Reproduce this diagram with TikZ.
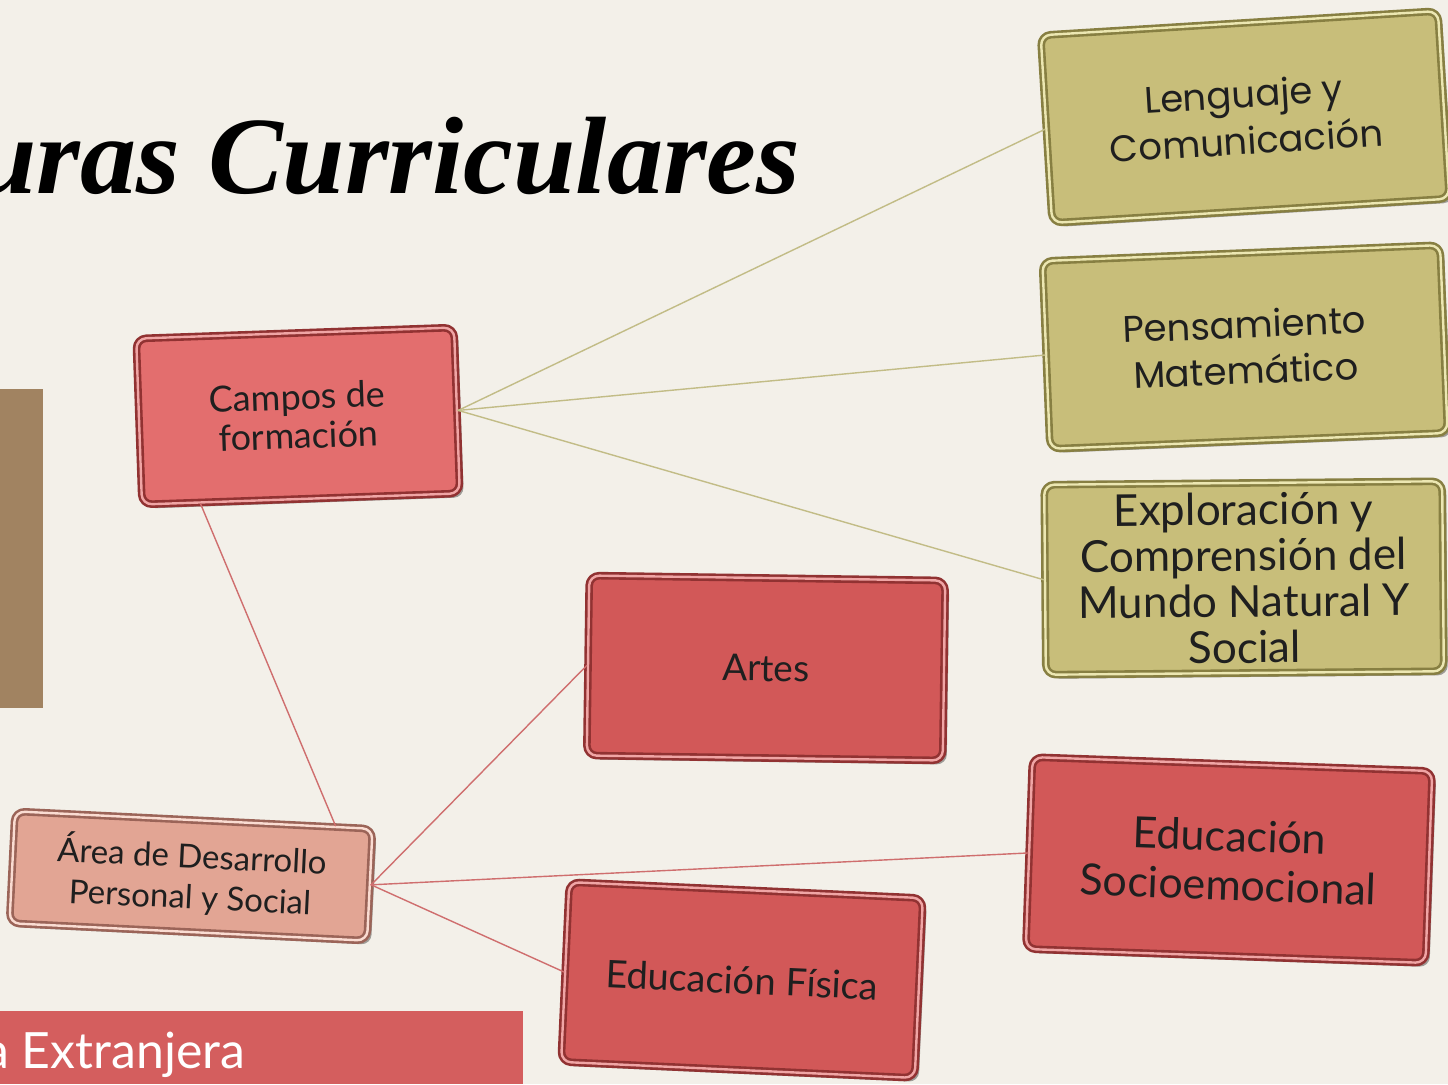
\documentclass[tikz,border=0pt]{standalone}
\usepackage{fontspec}
\setmainfont{Lato}
\newfontfamily\tituloFont{Liberation Serif}
\newfontfamily\geoFont{Poppins}
\usetikzlibrary{positioning}
\definecolor{fondo}{RGB}{243,240,233}
\definecolor{cafe}{RGB}{161,131,97}
\definecolor{barra}{RGB}{212,94,94}
\definecolor{rojoClaro}{RGB}{227,110,110}
\definecolor{rojoCaja}{RGB}{210,88,88}
\definecolor{rojoBorde}{RGB}{145,50,50}
\definecolor{rojoBrillo}{RGB}{240,165,165}
\definecolor{olivo}{RGB}{200,190,122}
\definecolor{olivoBorde}{RGB}{135,127,66}
\definecolor{olivoBrillo}{RGB}{236,231,178}
\definecolor{salmon}{RGB}{226,165,148}
\definecolor{salmonBorde}{RGB}{155,100,88}
\definecolor{salmonBrillo}{RGB}{250,220,210}
\definecolor{lineaOlivo}{RGB}{194,188,134}
\definecolor{lineaRoja}{RGB}{207,110,110}
\begin{document}
\begin{tikzpicture}[x=1pt, y=-1pt, line join=round, line cap=round,
	caja/.style={rectangle, rounded corners=10pt, line width=2.6pt, double distance=2.4pt,
		align=center, inner sep=0pt, text=black!88,
		preaction={fill=black, opacity=.35, transform canvas={xshift=4pt,yshift=-4pt}}},
	roja/.style={caja, fill=rojoCaja, draw=rojoBorde, double=rojoBrillo},
	olivo/.style={caja, fill=olivo, draw=olivoBorde, double=olivoBrillo},
	rosa/.style={caja, fill=salmon, draw=salmonBorde, double=salmonBrillo},
	enlace/.style={line width=1.4pt}]
	\useasboundingbox (0,0) rectangle (1448,1084);
	\clip (0,0) rectangle (1448,1084);
	\fill[fondo] (0,0) rectangle (1448,1084);
	% fondo de la diapositiva
	\fill[cafe] (0,389) rectangle (43,708);
	\fill[barra] (0,1011) rectangle (523,1084);
	\node[anchor=base west, text=white, font=\fontsize{50}{50}\selectfont, inner sep=0pt] (lengua) at (-16,1068) {a Extranjera};
	\node[anchor=base west, inner sep=0pt, xscale=1.02, font=\tituloFont\bfseries\itshape\fontsize{110}{110}\selectfont] (titulo) at (-26,193) {uras Curriculares};
	% cajas
	\node[roja, fill=rojoClaro, minimum width=318pt, minimum height=166pt, rotate=2, font=\fontsize{36}{39}\selectfont] (campos) at (298,416) {Campos de\\formación};
	\node[olivo, minimum width=398pt, minimum height=188pt, rotate=3.5, font=\geoFont\fontsize{37}{47}\selectfont] (leng) at (1245,117) {Lenguaje y\\Comunicación};
	\node[olivo, minimum width=398pt, minimum height=188pt, rotate=2.3, font=\geoFont\fontsize{37}{46}\selectfont] (pens) at (1245,347) {Pensamiento\\Matemático};
	\node[olivo, minimum width=398pt, minimum height=190pt, rotate=0.5, font=\fontsize{44}{46}\selectfont] (expl) at (1244,578) {Exploración y\\Comprensión del\\Mundo Natural Y\\Social};
	\node[roja, minimum width=356pt, minimum height=180pt, rotate=-0.8, font=\fontsize{37}{40}\selectfont] (artes) at (766,668) {Artes};
	\node[roja, minimum width=400pt, minimum height=192pt, rotate=-2, font=\fontsize{43}{49}\selectfont] (socio) at (1229,860) {Educación\\Socioemocional};
	\node[roja, minimum width=354pt, minimum height=180pt, rotate=-2.6, font=\fontsize{38}{40}\selectfont] (fisica) at (742,980) {Educación Física};
	\node[rosa, minimum width=358pt, minimum height=112pt, rotate=-2.8, font=\fontsize{33}{41}\selectfont] (area) at (191,876) {Área de Desarrollo\\Personal y Social};
	% conexiones
	\draw[enlace, lineaOlivo] (campos.east) -- (leng.west);
	\draw[enlace, lineaOlivo] (campos.east) -- (pens.west);
	\draw[enlace, lineaOlivo] (campos.east) -- (expl.west);
	\draw[enlace, lineaRoja] (campos.220) -- (area.22);
	\draw[enlace, lineaRoja] (area.east) -- (artes.west);
	\draw[enlace, lineaRoja] (area.east) -- (socio.west);
	\draw[enlace, lineaRoja] (area.east) -- (fisica.west);
\end{tikzpicture}
\end{document}
